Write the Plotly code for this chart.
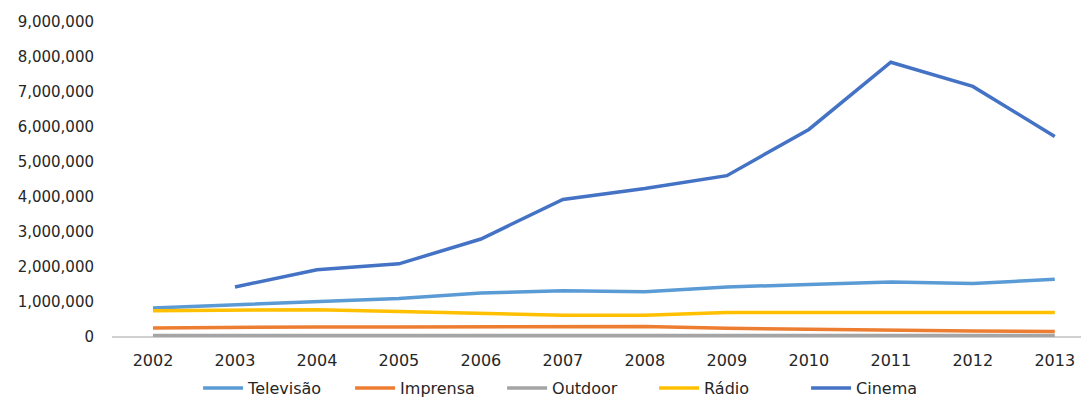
import plotly.graph_objects as go

years = ["2002", "2003", "2004", "2005", "2006", "2007",
         "2008", "2009", "2010", "2011", "2012", "2013"]

televisao = [830000, 920000, 1000000, 1100000, 1260000, 1320000,
             1290000, 1430000, 1500000, 1570000, 1530000, 1650000]
imprensa = [260000, 280000, 285000, 285000, 285000, 290000,
            300000, 250000, 220000, 200000, 170000, 160000]
outdoor = [40000, 40000, 40000, 40000, 40000, 40000,
           40000, 40000, 40000, 40000, 40000, 40000]
radio = [750000, 760000, 780000, 730000, 680000, 620000,
         620000, 700000, 700000, 700000, 720000, 700000]
cinema = [None, 1430000, 1920000, 2090000, 2800000, 3930000,
          4240000, 4610000, 5930000, 7850000, 7160000, 5730000]

series = [
    ("Televisão", televisao, "#5B9BD5"),
    ("Imprensa", imprensa, "#ED7D31"),
    ("Outdoor", outdoor, "#A5A5A5"),
    ("Rádio", radio, "#FFC000"),
    ("Cinema", cinema, "#4472C4"),
]

fig = go.Figure()
for name, values, color in series:
    fig.add_trace(go.Scatter(
        x=years, y=values, name=name, mode="lines",
        line=dict(color=color, width=3.5),
    ))

family = "DejaVu Sans, Arial, sans-serif"
ink = "#262626"
yfont = dict(family=family, size=15, color=ink)
xfont = dict(family=family, size=16, color=ink)

fig.update_layout(
    width=1081, height=401,
    margin=dict(l=112, r=0, t=22, b=64, autoexpand=False),
    paper_bgcolor="white", plot_bgcolor="white",
    font=yfont,
    showlegend=True,
    legend=dict(orientation="h", x=0.481, xanchor="center", y=-0.162,
                yanchor="middle", font=xfont, itemwidth=40,
                entrywidth=97, entrywidthmode="pixels"),
    xaxis=dict(type="category", range=[-0.5, 11.32], showgrid=False,
               showline=False, ticks="", tickfont=xfont,
               ticklabelstandoff=12, automargin=False),
    yaxis=dict(range=[0, 9000000], dtick=1000000, tickformat=",d",
               showgrid=False, zeroline=True, zerolinecolor="#D0D0D0",
               zerolinewidth=1.5, ticks="", tickfont=yfont,
               ticklabelstandoff=17, automargin=False),
)

fig.write_html("out.html")
